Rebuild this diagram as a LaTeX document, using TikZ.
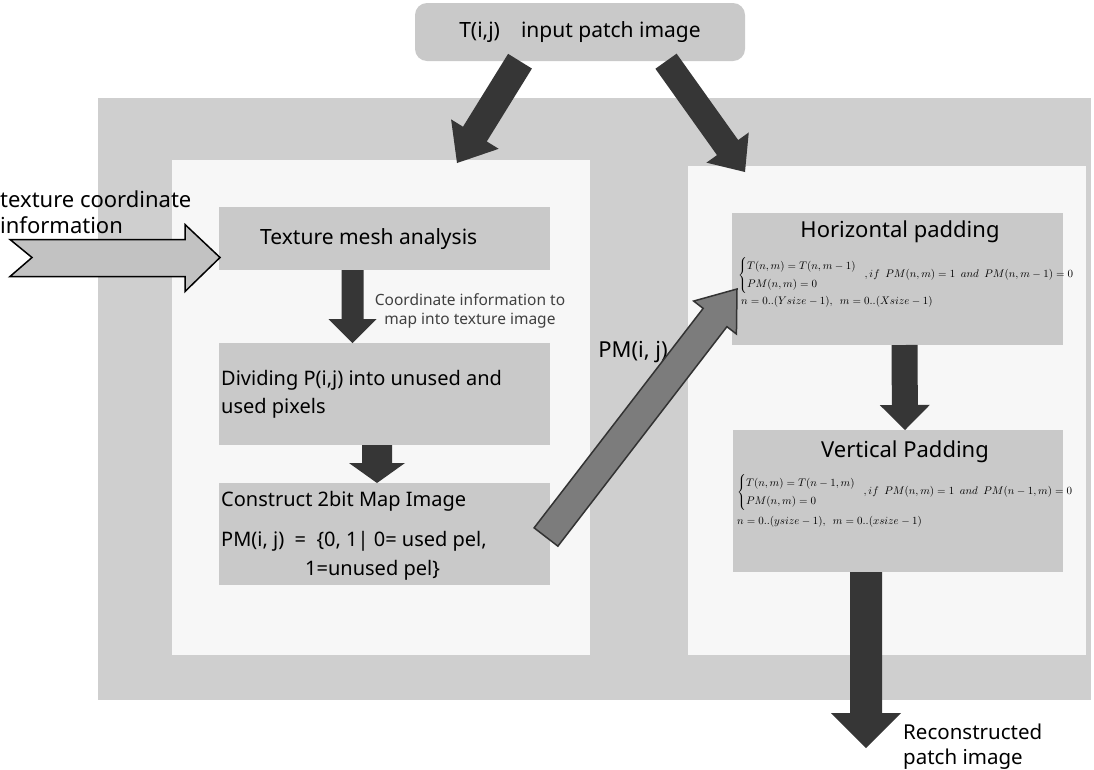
\documentclass[tikz,border=0pt]{standalone}
\usepackage{fontspec}
\setmainfont{Noto Sans}
\usetikzlibrary{calc}
\definecolor{bgouter}{HTML}{CFCFCF}
\definecolor{panelc}{HTML}{F7F7F7}
\definecolor{boxc}{HTML}{C9C9C9}
\definecolor{darkarrow}{HTML}{363636}
\definecolor{midarrow}{HTML}{7C7C7C}
\definecolor{chevc}{HTML}{C2C2C2}
\newcommand\blockarrow[6][]{%
  \coordinate (bah) at ($(#3)!#6!(#2)$);
  \path[#1] ($(#2)!#4!90:(#3)$) -- ($(bah)!#4!90:(#3)$) -- ($(bah)!#5!90:(#3)$) -- (#3)
    -- ($(bah)!#5!-90:(#3)$) -- ($(bah)!#4!-90:(#3)$) -- ($(#2)!#4!-90:(#3)$) -- cycle;
}
\begin{document}
\begin{tikzpicture}[x=1pt,y=-1pt,
  area/.style={fill=#1,draw=none,inner sep=0pt,outer sep=0pt},
  stepbox/.style={fill=boxc,draw=none,inner sep=0pt,outer sep=0pt},
  big/.style={font=\fontsize{21}{27}\selectfont,inner sep=0pt},
  small/.style={font=\fontsize{15.5}{19}\selectfont,inner sep=0pt,text=black!75},
  formula/.style={font=\fontsize{10.5}{13}\selectfont,inner sep=0pt},
  darrow/.style={fill=darkarrow,draw=none},
  marrow/.style={fill=midarrow,draw=black!80,line width=1.5pt,line join=miter},
]
\useasboundingbox (0,0) rectangle (1094,769);
% background areas
\node[area=bgouter,minimum width=993pt,minimum height=602pt,anchor=north west] (outer) at (98,98) {};
\node[area=panelc,minimum width=418pt,minimum height=495pt,anchor=north west] (lpanel) at (172,160) {};
\node[area=panelc,minimum width=398pt,minimum height=489pt,anchor=north west] (rpanel) at (688,166) {};
% top box
\node[fill=boxc,rounded corners=12pt,minimum width=330pt,minimum height=58pt,big] (top) at (580,32) {T(i,j)\quad input patch image};
% left boxes
\node[stepbox,minimum width=331pt,minimum height=63pt,anchor=north west] (texture) at (219,207) {};
\node[stepbox,minimum width=331pt,minimum height=102pt,anchor=north west] (divide) at (219,343) {};
\node[stepbox,minimum width=331pt,minimum height=102pt,anchor=north west] (construct) at (219,483) {};
% right boxes
\node[stepbox,minimum width=331pt,minimum height=132pt,anchor=north west] (horiz) at (732,213) {};
\node[stepbox,minimum width=330pt,minimum height=142pt,anchor=north west] (vert) at (733,430) {};
% texts in boxes
\node[big,anchor=west] (ttex) at ([xshift=41pt,yshift=-1pt]texture.west) {Texture mesh analysis};
\node[big,anchor=north west,align=left,font=\fontsize{20}{28}\selectfont] (tdiv) at (221,370) {Dividing P(i,j) into unused and\\used pixels};
\node[big,anchor=north west,align=left,font=\fontsize{20}{28}\selectfont] (tcon) at (221,491) {Construct 2bit Map Image\\[12pt]PM(i, j)\ \ =\ \ \{0, 1| 0= used pel,\\[1pt]\hspace*{84pt}1=unused pel\}};
\node[big,font=\fontsize{22}{27}\selectfont] (htitle) at ([xshift=2.5pt,yshift=-19pt]horiz.north) {Horizontal padding};
\node[formula,anchor=west] (hf1) at ([xshift=6pt,yshift=4pt]horiz.west) {\renewcommand\arraystretch{1.4}$\left\{\begin{array}{@{}l@{}}T(n,m)=T(n,m-1)\\ PM(n,m)=0\end{array}\right.\;\; ,if\ \ PM(n,m)=1\ \ and\ \ PM(n,m-1)=0$};
\node[formula,anchor=west] (hf2) at ([xshift=9pt,yshift=-23pt]horiz.west) {$n=0..(Ysize-1),\ \ m=0..(Xsize-1)$};
\node[big,font=\fontsize{22}{27}\selectfont] (vtitle) at ([xshift=7pt,yshift=-22pt]vert.north) {Vertical Padding};
\node[formula,anchor=west] (vf1) at ([xshift=4pt,yshift=9pt]vert.west) {\renewcommand\arraystretch{1.4}$\left\{\begin{array}{@{}l@{}}T(n,m)=T(n-1,m)\\ PM(n,m)=0\end{array}\right.\;\; ,if\ \ PM(n,m)=1\ \ and\ \ PM(n-1,m)=0$};
\node[formula,anchor=west] (vf2) at ([xshift=4pt,yshift=-21pt]vert.west) {$n=0..(ysize-1),\ \ m=0..(xsize-1)$};
% free texts
\node[big,anchor=north west,align=left,font=\fontsize{22}{26}\selectfont] (tci) at (0,191) {texture coordinate\\information};
\node[small,align=center] (cinfo) at (470,311) {Coordinate information to\\map into texture image};
\node[big,font=\fontsize{22}{27}\selectfont] (pmlab) at (633,352) {PM(i, j)};
\node[big,anchor=north west,align=left,font=\fontsize{20.5}{25}\selectfont] (recon) at (903,724) {Reconstructed\\patch image};
% arrow end points
\coordinate (a1s) at ([xshift=-60pt]top.south);
\coordinate (a1e) at ([xshift=76pt,yshift=-3pt]lpanel.north);
\coordinate (a2s) at ([xshift=86pt]top.south);
\coordinate (a2e) at ([xshift=-142pt,yshift=-6pt]rpanel.north);
\coordinate (a3s) at ([xshift=-32pt]texture.south);
\coordinate (a3e) at ([xshift=-32pt]divide.north);
\coordinate (a4s) at ([xshift=-7.5pt]divide.south);
\coordinate (a4e) at ([xshift=-7.5pt]construct.north);
\coordinate (a5s) at ([xshift=-4pt,yshift=-3pt]construct.east);
\coordinate (a5e) at ([xshift=5pt,yshift=-10pt]horiz.west);
\coordinate (a6s) at ([xshift=7pt]horiz.south);
\coordinate (a6e) at ([xshift=7pt]vert.north);
\coordinate (a7s) at ([xshift=-32pt]vert.south);
\coordinate (outc) at (866,748);
\coordinate (chevtip) at ([xshift=1pt,yshift=-19pt]texture.west);
% arrows
\blockarrow[darrow]{a1s}{a1e}{14pt}{28pt}{34pt}
\blockarrow[darrow]{a2s}{a2e}{13pt}{26pt}{30pt}
\blockarrow[darrow]{a3s}{a3e}{11pt}{24pt}{24pt}
\blockarrow[darrow]{a4s}{a4e}{15pt}{28pt}{20pt}
\blockarrow[marrow]{a5s}{a5e}{15pt}{27pt}{36pt}
\blockarrow[darrow]{a6s}{a6e}{13pt}{25pt}{25pt}
\blockarrow[darrow]{a7s}{outc}{16pt}{35pt}{35pt}
\draw[fill=chevc,draw=black,line width=1.5pt,line join=miter] (chevtip) -- ++(-35,-33) -- ++(0,15) -- ++(-175,0) -- ++(22,18) -- ++(-22,19) -- ++(175,0) -- ++(0,15) -- cycle;
\end{tikzpicture}
\end{document}
